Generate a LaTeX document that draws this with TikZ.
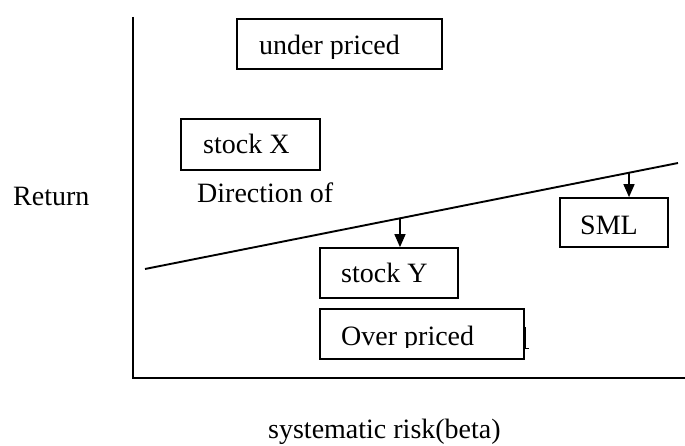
\documentclass[tikz,border=0pt]{standalone}
\usepackage{fontspec}
\setmainfont{Liberation Serif}
\usetikzlibrary{arrows.meta,calc}

\tikzset{
  box/.style={draw, line width=1.7pt, inner sep=0pt, minimum width=#1},
  box/.default=100pt,
  lbl/.style={anchor=base west, inner sep=0pt, font=\fontsize{28}{30}\selectfont},
  axis/.style={line width=2.2pt},
  smlline/.style={line width=1.9pt},
  pointer/.style={line width=1.5pt, -{Triangle[length=13pt,width=11pt]}},
}

\begin{document}
\begin{tikzpicture}[x=1pt, y=-1pt]
  \useasboundingbox[fill=white] (0,0) rectangle (685,446);

  % axes
  \coordinate (origin) at (133,378);
  \coordinate (ytop) at (133,17);
  \coordinate (xend) at (685,378);
  \draw[axis] (ytop) -- (origin) -- (xend);

  % security market line
  \coordinate (s0) at (145,269);
  \coordinate (s1) at (678,163);
  \draw[smlline] (s0) -- (s1);

  % boxes
  \node[box=205pt, minimum height=50pt] (under) at (339.5,44) {};
  \node[box=139pt, minimum height=51pt] (stockx) at (250.5,144.5) {};
  \node[box=108pt, minimum height=49pt] (sml) at (614,222.5) {};
  \node[box=138pt, minimum height=50pt] (stocky) at (389,273) {};
  \node[box=204pt, minimum height=50pt] (over) at (422,334) {};

  % box texts (the priced labels are cut off at the bottom)
  \begin{scope}
    \clip (237,19) rectangle (442,58.5);
    \node[lbl] (underT) at (259,55) {under priced};
  \end{scope}
  \node[lbl] (stockxT) at (203,154) {stock X};
  \node[lbl] (smlT) at (580,235) {SML};
  \node[lbl] (stockyT) at (341,283) {stock Y};
  \begin{scope}
    \clip (320,309) rectangle (524,347.5);
    \node[lbl] (overT) at (341,345) {Over priced};
  \end{scope}

  % stray stroke beside the lower box
  \coordinate (st0) at (525.5,327);
  \coordinate (st1) at (525.5,348);
  \coordinate (st2) at (529,348);
  \draw[line width=0.9pt] (st0) -- (st1) -- (st2);

  % free labels
  \node[lbl] (dirT) at (197,203) {Direction of};
  \node[lbl] (retT) at (13,206) {Return};
  \node[lbl] (betaT) at (268,438) {systematic risk(beta)};

  % pointers from the line to the boxes
  \coordinate (py) at ($(s0)!0.4784!(s1)$);
  \coordinate (ps) at ($(s0)!0.9081!(s1)$);
  \draw[pointer] (py) -- (py |- stocky.north);
  \draw[pointer] (ps) -- (ps |- sml.north);
\end{tikzpicture}
\end{document}
